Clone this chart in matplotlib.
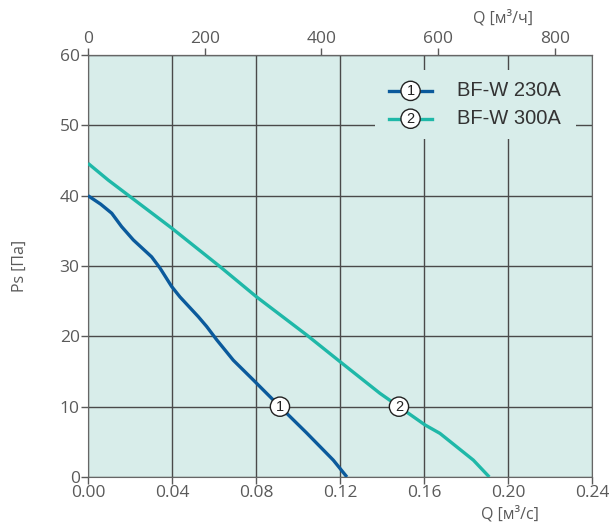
import numpy as np
import matplotlib.pyplot as plt
from matplotlib.lines import Line2D
from matplotlib.patches import Rectangle

# curve 1: BF-W 230A
q1 = [0.0, 0.0060, 0.0113, 0.0160, 0.0216, 0.0303, 0.0343, 0.0398, 0.0438,
      0.0525, 0.0565, 0.0613, 0.0692, 0.0787, 0.0914, 0.1040, 0.1168, 0.1233]
p1 = [40.0, 38.8, 37.5, 35.6, 33.7, 31.3, 29.7, 27.1, 25.6,
      22.8, 21.4, 19.5, 16.6, 13.8, 10.0, 6.3, 2.4, 0.0]
# curve 2: BF-W 300A
q2 = [0.0, 0.0097, 0.0398, 0.0629, 0.0803, 0.1041, 0.1200, 0.1390, 0.1476,
      0.1605, 0.1676, 0.1835, 0.1911]
p2 = [44.6, 42.2, 35.4, 29.9, 25.6, 20.2, 16.4, 11.9, 10.1,
      7.4, 6.2, 2.4, 0.0]

names = ["BF-W 230A", "BF-W 300A"]
marks = ["1", "2"]
colors = ["#0b5a9c", "#1fb8a8"]
mark_p = 10

xticks = [0.00, 0.04, 0.08, 0.12, 0.16, 0.20, 0.24]
yticks = [0, 10, 20, 30, 40, 50, 60]
top_ticks = [0, 200, 400, 600, 800]

tick_col = "#5a5a5a"
tick_font = dict(family="Open Sans", size=12.5)

fig = plt.figure(figsize=(6.09, 5.26), dpi=100)
ax = fig.add_axes([88 / 609, 1 - 477 / 526, 504 / 609, 422 / 526])
ax.set_facecolor("#d8edea")
ax.set_xlim(0, 0.24)
ax.set_ylim(0, 60)
ax.set_xticks(xticks)
ax.set_xticklabels([f"{v:.2f}" for v in xticks], fontdict=tick_font)
ax.set_yticks(yticks)
ax.set_yticklabels([str(v) for v in yticks], fontdict=tick_font)
ax.grid(True, color="#4a4a4a", lw=1.0)
ax.set_axisbelow(True)
for s in ax.spines.values():
    s.set_color("#666666")
ax.tick_params(colors=tick_col, length=5, width=1, pad=1)

sec = ax.secondary_xaxis("top", functions=(lambda x: x * 3600, lambda x: x / 3600))
sec.set_xticks(top_ticks)
sec.set_xticklabels([str(v) for v in top_ticks], fontdict=tick_font)
sec.tick_params(colors=tick_col, length=5, width=1, pad=1)

circ = dict(boxstyle="circle,pad=0.18", fc="white", ec="#222222", lw=1)
for q, p, c, m in zip([q1, q2], [p1, p2], colors, marks):
    ax.plot(q, p, color=c, lw=2.4, solid_capstyle="butt", zorder=3)
    xm = np.interp(mark_p, p[::-1], q[::-1])
    ax.text(xm, mark_p, m, ha="center", va="center", fontsize=10.5,
            family="Liberation Sans", color="#222222", bbox=circ, zorder=4)

# legend
ax.add_patch(Rectangle((0.569, 0.80), 0.40, 0.165, transform=ax.transAxes,
                       fc="#d8edea", ec="none", zorder=2.5))
for i, (n, c, m) in enumerate(zip(names, colors, marks)):
    yy = 0.915 - i * 0.066
    ax.add_line(Line2D([0.598, 0.682], [yy, yy], transform=ax.transAxes,
                       color=c, lw=2.4, zorder=3))
    ax.text(0.640, yy, m, transform=ax.transAxes, ha="center", va="center",
            fontsize=10.5, family="Liberation Sans", color="#222222",
            bbox=circ, zorder=4)
    ax.text(0.733, yy, n, transform=ax.transAxes, ha="left", va="center",
            fontsize=14.5, family="Liberation Sans", color="#333333", zorder=4)

lab = dict(fontsize=11.5, color=tick_col, family="Open Sans")
fig.text(20 / 609, 1 - 266 / 526, "Ps [Па]", rotation=90, ha="center", va="center", **lab)
fig.text(510 / 609, 1 - 514 / 526, "Q [м³/с]", ha="center", va="center", **lab)
fig.text(503 / 609, 1 - 18 / 526, "Q [м³/ч]", ha="center", va="center", **lab)

fig.savefig("out.png", dpi=100)
